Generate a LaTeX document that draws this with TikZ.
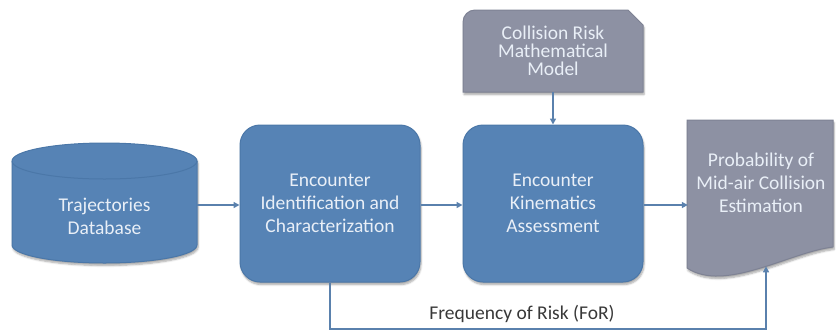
\documentclass[tikz,border=0pt]{standalone}
\usepackage{fontspec}
\setmainfont{Carlito}
\usetikzlibrary{arrows.meta,shadows.blur}
\definecolor{boxblue}{HTML}{5683B5}
\definecolor{boxedge}{HTML}{4B77A8}
\definecolor{boxgray}{HTML}{8D91A3}
\definecolor{grayedge}{HTML}{7E8294}
\definecolor{boxtext}{HTML}{E9EFF7}
\definecolor{linkblue}{HTML}{5A81AD}
\begin{document}
\begin{tikzpicture}[x=1pt,y=-1pt,
  softshadow/.style={blur shadow={shadow xshift=1pt,shadow yshift=-2.5pt,shadow blur steps=6,shadow opacity=35}},
  boxlabel/.style={text=boxtext,font=\fontsize{19.5}{23}\selectfont,align=center,inner sep=0pt},
  procbox/.style={draw=boxedge,line width=1pt,fill=boxblue,rounded corners=20pt,
    minimum width=180pt,minimum height=157pt,softshadow,boxlabel},
  link/.style={draw=linkblue,line width=1.8pt,-{Triangle[length=6pt,width=6pt]}}
]
\useasboundingbox (0,0) rectangle (837,333);

% trajectories database: cylinder
\path[fill=boxblue,draw=boxedge,line width=1pt,softshadow]
  (12,161) -- (12,245) arc[start angle=180,end angle=0,x radius=92.5,y radius=18]
  -- (197,161) arc[start angle=0,end angle=-180,x radius=92.5,y radius=18] -- cycle;
\draw[boxedge,line width=1pt] (12,161) arc[start angle=180,end angle=0,x radius=92.5,y radius=18];
\node[minimum width=185pt,minimum height=116pt,inner sep=0pt] (db) at (104.5,205) {};
\node[boxlabel] (dbtext) at (104.5,216) {Trajectories\\Database};

% collision risk model: round/snipped top corners
\path[fill=boxgray,draw=grayedge,line width=1pt,softshadow]
  (463,92) -- (463,22) arc[start angle=180,end angle=270,radius=12]
  -- (628,10) -- (643,25) -- (643,92) -- cycle;
\node[boxlabel,font=\fontsize{19.5}{18}\selectfont,minimum width=180pt,minimum height=82pt] (crm) at (553,51)
  {Collision Risk\\Mathematical\\Model};

% processing steps
\node[procbox] (enc) at (330,203.5) {Encounter\\Identification and\\Characterization};
\node[procbox] (kin) at (553,203.5) {Encounter\\Kinematics\\Assessment};

% result: document shape with wavy bottom
\path[fill=boxgray,draw=grayedge,line width=1pt,softshadow]
  (687,120) -- (833,120) -- (833,247)
  .. controls (790,252) and (725,293) .. (687,268) -- cycle;
\node[boxlabel,minimum width=146pt,minimum height=126pt] (doc) at (761,183)
  {Probability of\\Mid-air Collision\\Estimation};
\coordinate (docin) at (766,266.3);

% connectors
\draw[link] (db.east) -- (db.east -| enc.west);
\draw[link] (enc.east |- db.east) -- (kin.west |- db.east);
\draw[link] (kin.east |- db.east) -- (doc.west |- db.east);
\draw[link] (crm.south) -- (kin.north);
\coordinate (fbrow) at (0,329);
\draw[link] (enc.south) -- (enc.south |- fbrow) -| (docin);
\node[text=black!78,font=\fontsize{19.5}{23}\selectfont,inner sep=0pt] (for) at (522,314) {Frequency of Risk (FoR)};
\end{tikzpicture}
\end{document}
